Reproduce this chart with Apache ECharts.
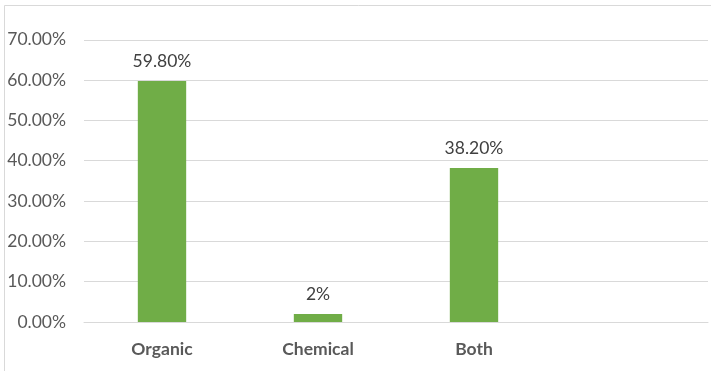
<!DOCTYPE html>
<html>
<head>
<meta charset="utf-8">
<style>
  html, body { margin: 0; padding: 0; background: #fff; }
  #chart { width: 711px; height: 371px; }
</style>
<script src="https://cdn.jsdelivr.net/npm/echarts@6/dist/echarts.min.js"></script>
</head>
<body>
<div id="chart"></div>
<script>
// Fertilizer preference shares
const categories = ['Organic', 'Chemical', 'Both', ''];
const shares = [59.8, 2, 38.2, null];
const shareLabels = ['59.80%', '2%', '38.20%', ''];
const yTicks = [0, 10, 20, 30, 40, 50, 60, 70];

const textColor = '#595959';
const fontFamily = 'Lato, "Open Sans", sans-serif';

const chart = echarts.init(document.getElementById('chart'), null, { renderer: 'canvas' });
chart.setOption({
  animation: false,
  backgroundColor: '#fff',
  graphic: [{
    type: 'rect',
    shape: { x: 4.5, y: 5.5, width: 800, height: 400 },
    style: { fill: 'none', stroke: '#d9d9d9', lineWidth: 1 },
    silent: true
  }],
  grid: { left: 84, right: 3, top: 39.8, bottom: 49, containLabel: false },
  xAxis: {
    type: 'category',
    data: categories,
    axisLine: { show: true, lineStyle: { color: '#d9d9d9', width: 1 } },
    axisTick: { show: false },
    axisLabel: {
      color: textColor, fontFamily, fontSize: 17.5, fontWeight: 'bold', margin: 18
    }
  },
  yAxis: {
    type: 'value',
    min: yTicks[0],
    max: yTicks[yTicks.length - 1],
    interval: 10,
    axisLine: { show: false },
    axisTick: { show: false },
    splitLine: { lineStyle: { color: '#d9d9d9', width: 1 } },
    axisLabel: {
      color: textColor, fontFamily, fontSize: 17.5, margin: 18,
      formatter: v => v.toFixed(2) + '%'
    }
  },
  series: [{
    type: 'bar',
    data: shares,
    barWidth: '31%',
    itemStyle: { color: '#70ad47' },
    label: {
      show: true,
      position: 'top',
      distance: 11,
      color: '#404040',
      fontFamily,
      fontSize: 17.5,
      formatter: p => shareLabels[p.dataIndex]
    }
  }]
});
</script>
</body>
</html>
